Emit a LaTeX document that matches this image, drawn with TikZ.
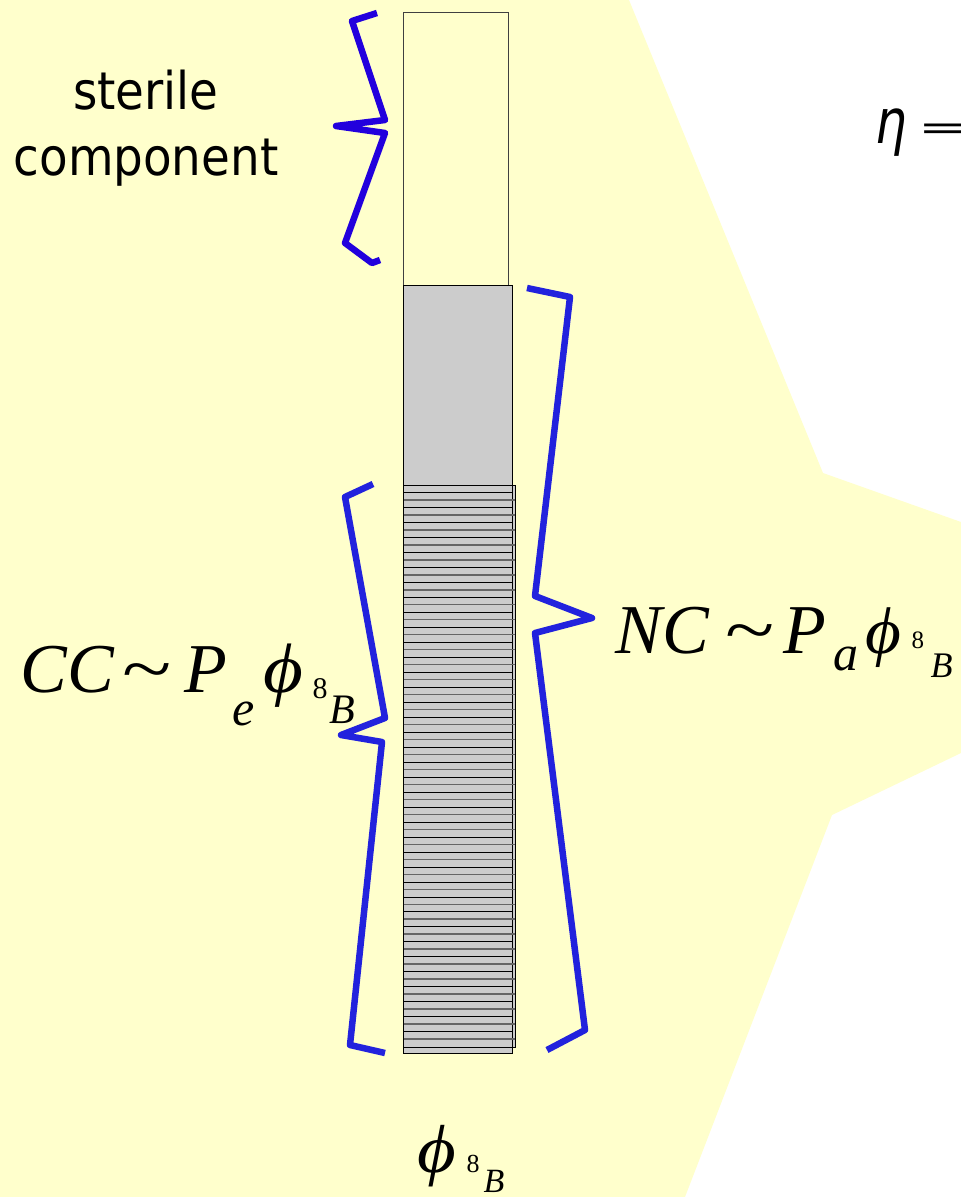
\documentclass[tikz,border=0pt]{standalone}
\usepackage{fontspec}
\usepackage{graphicx}
\newfontfamily\tim{Liberation Serif}
\newfontfamily\labfont[FakeStretch=0.9]{DejaVu Sans}
\newfontfamily\etafont[FakeStretch=0.8]{DejaVu Sans}
\definecolor{bgyellow}{RGB}{255,255,204}
\definecolor{braceblue}{RGB}{34,34,221}
\definecolor{bracepurple}{RGB}{34,0,221}
\definecolor{barfill}{RGB}{204,204,204}
\definecolor{hatchgray}{RGB}{102,102,102}
\newcommand\pc[4]{\rlap{\hspace*{#1pt}\raisebox{#2pt}{\fontsize{#3}{#3}\selectfont #4}}}
\begin{document}
\begin{tikzpicture}[x=1pt,y=-1pt,
  brace/.style={line width=6.5pt, line join=round, draw=braceblue},
  label/.style={inner sep=0pt, anchor=base west, font=\tim\itshape},
  barbox/.style={fill=barfill, draw=black, line width=0.8pt}]
\useasboundingbox (0,0) rectangle (961,1197);
\fill[white] (0,0) rectangle (961,1197);
% background polygon
\fill[bgyellow] (0,0) -- (629,0) -- (823,473) -- (961,522) -- (961,753) -- (832,815) -- (685,1197) -- (0,1197) -- cycle;
% bar
\draw[fill=bgyellow, draw=black!75, line width=0.9pt] (403,12) rectangle (508,285);
\draw[barbox] (403,285) rectangle (512,485);
\draw[barbox] (403,485) rectangle (515,1047);
\draw[black, line width=0.8pt] (512,485) -- (512,1047);
\foreach \k in {0,...,36} {
  \draw[black, line width=0.8pt] (403,492.7+14.97*\k) -- (512,492.7+14.97*\k);
  \draw[hatchgray, line width=1.4pt] (403.5,500+14.97*\k) -- (514.5,500+14.97*\k);
}
\draw[barbox] (403,1047) rectangle (512,1053);
% braces
\draw[brace, draw=bracepurple] (377,13) -- (352,21) -- (385,120) -- (336,126) -- (385,133) -- (345,243) -- (372,263) -- (380,260);
\draw[brace] (373,484) -- (345,497) -- (385,718) -- (341,735) -- (382,742) -- (350,1045) -- (385,1053);
\draw[brace] (527,288) -- (570,297) -- (535,596) -- (592,618) -- (535,633) -- (585,1030) -- (547,1050);
% texts
\node[inner sep=0pt, anchor=base, align=center, font=\labfont\fontsize{52}{66}\selectfont] (sterile) at (146,175) {sterile\\component};
\node[inner sep=0pt, anchor=base west, font=\etafont\itshape\fontsize{62}{62}\selectfont] (eta) at (875,143) {η\hspace{10pt}\raisebox{4pt}{\scalebox{1.45}[0.55]{=}}};
\node[label] (cc) at (20,692) {%
  \pc{0}{0}{70}{CC}%
  \pc{102}{0}{70}{\upshape\scalebox{1.3}[1]{\textasciitilde}}%
  \pc{164}{0}{70}{P}%
  \pc{212}{-33}{50}{e}%
  \pc{243}{0}{70}{\scalebox{1.1}[1]{ϕ}}%
  \pc{292}{-6}{30}{\upshape 8}%
  \pc{309}{-31}{42}{B}};
\node[label] (nc) at (615,653) {%
  \pc{0}{0}{70}{NC}%
  \pc{110}{0}{70}{\upshape\scalebox{1.3}[1]{\textasciitilde}}%
  \pc{168}{0}{70}{P}%
  \pc{218}{-17}{50}{a}%
  \pc{250}{0}{66}{\scalebox{1.05}[1]{ϕ}}%
  \pc{296}{5}{25}{\upshape 8}%
  \pc{315}{-24}{36}{B}};
\node[label] (phi) at (417,1172) {%
  \pc{0}{0}{68}{\scalebox{1.1}[1]{ϕ}}%
  \pc{49}{0}{26}{\upshape 8}%
  \pc{66}{-20}{34}{B}};
\end{tikzpicture}
\end{document}
